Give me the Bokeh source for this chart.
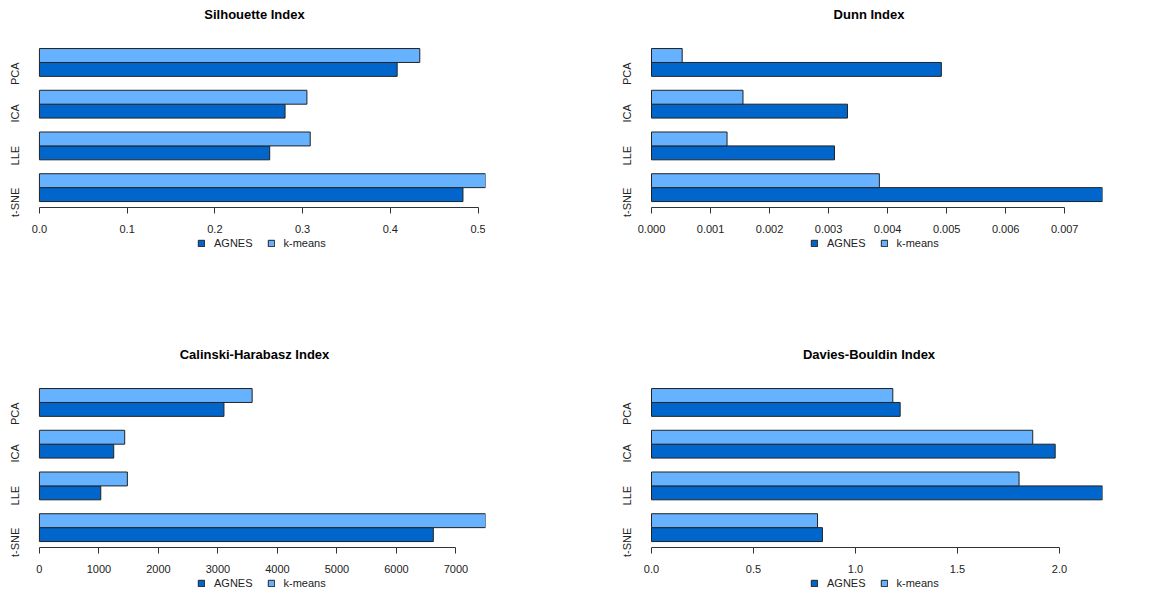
import numpy as np
from bokeh.plotting import figure
from bokeh.layouts import column, row
from bokeh.models import Range1d, FixedTicker, Legend, LegendItem
from bokeh.embed import file_html
from bokeh.resources import INLINE

# ---- data ----
methods = ["t-SNE", "LLE", "ICA", "PCA"]          # bottom to top
series_names = ["AGNES", "k-means"]

silhouette_agnes = [0.4828, 0.2625, 0.2800, 0.4078]
silhouette_kmeans = [0.5085, 0.3087, 0.3049, 0.4336]

dunn_agnes = [0.00764, 0.00310, 0.00332, 0.00491]
dunn_kmeans = [0.00386, 0.00128, 0.00155, 0.00052]

ch_agnes = [6620, 1031, 1249, 3101]
ch_kmeans = [7497, 1478, 1433, 3575]

db_agnes = [0.838, 2.211, 1.979, 1.219]
db_kmeans = [0.814, 1.802, 1.869, 1.183]

silhouette_ticks = [0.0, 0.1, 0.2, 0.3, 0.4, 0.5]
silhouette_labels = ["0.0", "0.1", "0.2", "0.3", "0.4", "0.5"]
dunn_ticks = [0.000, 0.001, 0.002, 0.003, 0.004, 0.005, 0.006, 0.007]
dunn_labels = ["0.000", "0.001", "0.002", "0.003", "0.004", "0.005", "0.006", "0.007"]
ch_ticks = [0, 1000, 2000, 3000, 4000, 5000, 6000, 7000]
ch_labels = ["0", "1000", "2000", "3000", "4000", "5000", "6000", "7000"]
db_ticks = [0.0, 0.5, 1.0, 1.5, 2.0]
db_labels = ["0.0", "0.5", "1.0", "1.5", "2.0"]

COL_AGNES = "#0066CC"
COL_KMEANS = "#66B2FF"
EDGE = "#222222"
FONT = "Liberation Sans"

PX_PER_UNIT = 13.97      # vertical scale of the bar axis
BARS_TOP = 41            # pixel row where the plotting region of the bars begins
FRAME_TOP = 24           # frame starts higher to leave room only for the title
FRAME_BOTTOM = 254
PAD_LEFT = 16            # room left of zero for the first tick label


def panel(title, agnes, kmeans, ticks, labels, zero_px, data_w,
          fig_height, legend_x):
    n = len(methods)
    idx = np.arange(n)
    y_agnes = 3 * idx + 1.5
    y_kmeans = 3 * idx + 2.5
    centers = 3 * idx + 2.0
    xmax = max(max(agnes), max(kmeans))
    x_start = -PAD_LEFT * xmax / data_w
    y_region_top = 3 * n + 0.44
    y_axis = 0.56
    y_top = y_region_top + (BARS_TOP - FRAME_TOP) / PX_PER_UNIT
    y_bottom = y_region_top - (FRAME_BOTTOM - BARS_TOP) / PX_PER_UNIT

    left_border = zero_px - PAD_LEFT
    right_border = 578 - zero_px - data_w

    p = figure(width=578, height=fig_height, output_backend="svg", toolbar_location=None,
               x_range=Range1d(x_start, xmax), y_range=Range1d(y_bottom, y_top),
               min_border_left=left_border, min_border_right=right_border,
               min_border_top=FRAME_TOP, min_border_bottom=fig_height - FRAME_BOTTOM)
    p.outline_line_color = None
    p.xgrid.visible = False
    p.ygrid.visible = False
    p.background_fill_color = "white"
    p.border_fill_color = "white"

    r1 = p.hbar(y=y_agnes, left=0, right=agnes, height=1.0,
                fill_color=COL_AGNES, line_color=EDGE, line_width=1)
    r2 = p.hbar(y=y_kmeans, left=0, right=kmeans, height=1.0,
                fill_color=COL_KMEANS, line_color=EDGE, line_width=1)

    p.title.text = title
    p.title.align = "center"
    p.title.offset = 12
    p.title.text_font = FONT
    p.title.text_font_size = "13px"
    p.title.text_font_style = "bold"
    p.title.text_color = "#000000"
    p.title.standoff = 8

    xa = p.xaxis[0]
    xa.fixed_location = y_axis
    xa.bounds = (ticks[0], ticks[-1])
    xa.ticker = FixedTicker(ticks=ticks)
    xa.major_label_overrides = {t: l for t, l in zip(ticks, labels)}
    xa.minor_tick_line_color = None
    xa.major_tick_out = 6
    xa.major_tick_in = 0
    xa.axis_line_color = "#333333"
    xa.major_tick_line_color = "#333333"
    xa.major_label_text_font = FONT
    xa.major_label_text_font_size = "11px"
    xa.major_label_text_color = "#222222"
    xa.major_label_standoff = 11

    ya = p.yaxis[0]
    ya.ticker = FixedTicker(ticks=[float(c) for c in centers])
    ya.major_label_overrides = {float(c): m for c, m in zip(centers, methods)}
    ya.axis_line_color = None
    ya.major_tick_line_color = None
    ya.minor_tick_line_color = None
    ya.major_label_orientation = np.pi / 2
    ya.major_label_standoff = 18 - PAD_LEFT
    ya.major_label_text_font = FONT
    ya.major_label_text_font_size = "11px"
    ya.major_label_text_color = "#222222"

    legend = Legend(items=[LegendItem(label=series_names[0], renderers=[r1]),
                           LegendItem(label=series_names[1], renderers=[r2])],
                    orientation="horizontal", location=(legend_x + PAD_LEFT, 5),
                    border_line_color=None, background_fill_alpha=0,
                    glyph_width=8, glyph_height=8, label_standoff=9, spacing=14,
                    padding=0, margin=0,
                    label_text_font=FONT, label_text_font_size="11px",
                    label_text_color="#222222")
    p.add_layout(legend, "center")
    return p


p1 = panel("Silhouette Index", silhouette_agnes, silhouette_kmeans,
           silhouette_ticks, silhouette_labels, 37, 448, 340, 158)
p2 = panel("Dunn Index", dunn_agnes, dunn_kmeans, dunn_ticks, dunn_labels, 73, 451, 340, 159)
p3 = panel("Calinski-Harabasz Index", ch_agnes, ch_kmeans, ch_ticks, ch_labels, 37, 448, 254, 158)
p4 = panel("Davies-Bouldin Index", db_agnes, db_kmeans, db_ticks, db_labels, 73, 451, 254, 159)

layout = column(row(p1, p2), row(p3, p4))
open("out.html", "w").write(file_html(layout, INLINE))
